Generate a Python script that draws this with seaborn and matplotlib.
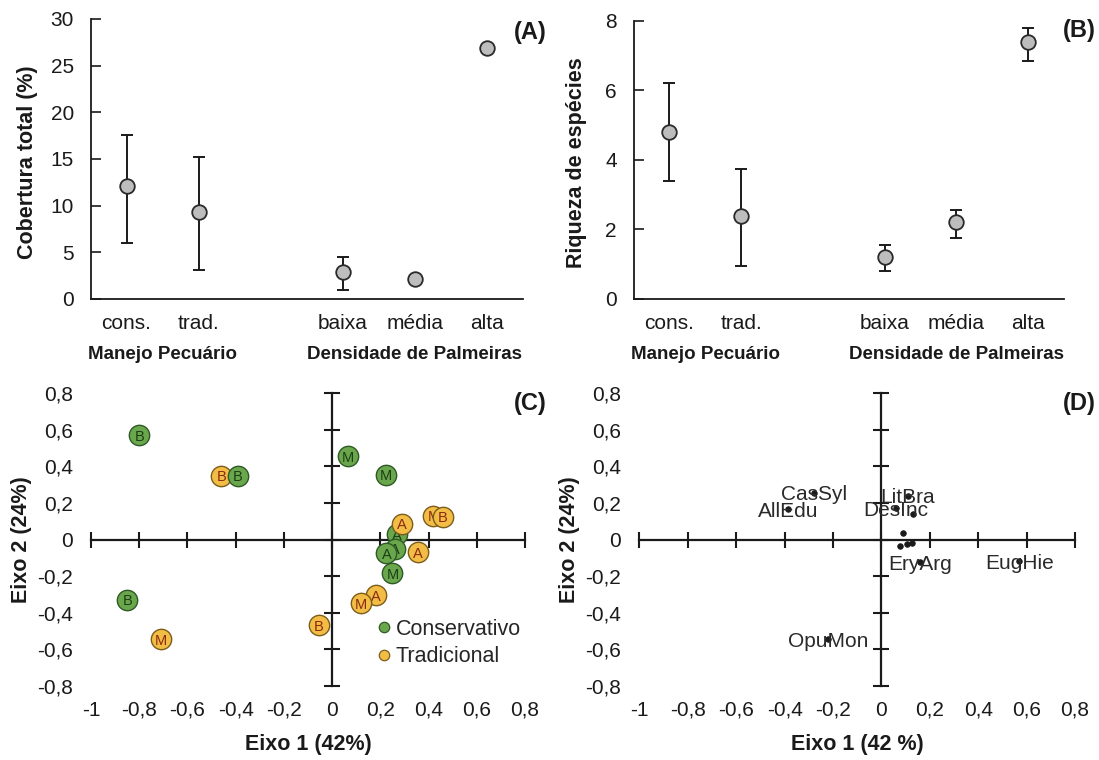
import numpy as np
import pandas as pd
import matplotlib
matplotlib.use('Agg')
import matplotlib.pyplot as plt
from matplotlib import transforms
from matplotlib.lines import Line2D
import seaborn as sns

# --- dados painéis A e B (médias e limites das barras de erro)
categorias = ['cons.', 'trad.', '', 'baixa', 'média', 'alta']
grupos = ['Manejo Pecuário', 'Densidade de Palmeiras']
grupo_idx = [[0, 1], [3, 4, 5]]

cob_media = [12.1, 9.3, np.nan, 2.9, 2.1, 26.9]
cob_inf = [6.0, 3.1, np.nan, 1.0, 2.1, 26.9]
cob_sup = [17.6, 15.2, np.nan, 4.5, 2.1, 26.9]

riq_media = [4.8, 2.4, np.nan, 1.2, 2.2, 7.4]
riq_inf = [3.4, 0.95, np.nan, 0.8, 1.75, 6.85]
riq_sup = [6.2, 3.75, np.nan, 1.55, 2.55, 7.8]

# --- dados painel C (escores das parcelas)
pc_x = [-0.46, -0.39, -0.80, -0.85, 0.065, 0.225, 0.27, 0.26, 0.25, 0.225,
        0.29, 0.42, 0.46, 0.355, 0.18, 0.12, -0.055, -0.71]
pc_y = [0.35, 0.35, 0.57, -0.33, 0.455, 0.355, 0.03, -0.05, -0.185, -0.075,
        0.085, 0.13, 0.125, -0.07, -0.305, -0.35, -0.47, -0.545]
pc_manejo = ['Tradicional', 'Conservativo', 'Conservativo', 'Conservativo',
             'Conservativo', 'Conservativo', 'Conservativo', 'Conservativo',
             'Conservativo', 'Conservativo', 'Tradicional', 'Tradicional',
             'Tradicional', 'Tradicional', 'Tradicional', 'Tradicional',
             'Tradicional', 'Tradicional']
pc_dens = ['B', 'B', 'B', 'B', 'M', 'M', 'A', 'A', 'M', 'A',
           'A', 'M', 'B', 'A', 'A', 'M', 'B', 'M']

# --- dados painel D (escores das espécies)
sp_nome = ['AllEdu', 'CasSyl', 'LitBra', 'DesInc', 'EryArg', 'EugHie', 'OpuMon',
           '', '', '', '', '']
sp_x = [-0.385, -0.28, 0.11, 0.06, 0.16, 0.57, -0.22, 0.13, 0.09, 0.076, 0.104, 0.125]
sp_y = [0.165, 0.255, 0.24, 0.17, -0.125, -0.12, -0.545, 0.14, 0.035, -0.038, -0.024, -0.02]

eixo_x_ticks = [-1, -0.8, -0.6, -0.4, -0.2, 0, 0.2, 0.4, 0.6, 0.8]
eixo_y_ticks = [-0.8, -0.6, -0.4, -0.2, 0, 0.2, 0.4, 0.6, 0.8]

cores = {'Conservativo': '#69a64c', 'Tradicional': '#f1bd45'}
bordas = {'Conservativo': '#2f5a26', 'Tradicional': '#7d5d1c'}
letras = {'Conservativo': '#1c3f16', 'Tradicional': '#8c2a10'}

sns.set_style('white')
plt.rcParams['font.family'] = ['Liberation Sans', 'DejaVu Sans']

fig = plt.figure(figsize=(10.99, 7.6), dpi=100)
W, H = 1099, 760


def px_axes(x0, y0, x1, y1):
    return fig.add_axes([x0 / W, 1 - y1 / H, (x1 - x0) / W, (y1 - y0) / H])


def painel_grupos(ax, media, inf, sup, ymax, ystep, ylabel, ylab_x):
    pos = np.arange(len(categorias))
    d = pd.DataFrame({'pos': pos, 'media': media, 'inf': inf, 'sup': sup}).dropna()
    ax.errorbar(d['pos'], d['media'], yerr=[d['media'] - d['inf'], d['sup'] - d['media']],
                fmt='none', ecolor='#1a1a1a', elinewidth=1.4, capsize=4.5, capthick=1.4, zorder=3)
    sns.scatterplot(data=d, x='pos', y='media', ax=ax, s=110, color='#bdbdbd',
                    edgecolor='#2a2a2a', linewidth=1.3, zorder=4, legend=False)
    ax.set_xlim(-0.5, len(categorias) - 0.5)
    ax.set_ylim(0, ymax)
    ax.set_yticks(np.arange(0, ymax + ystep / 2, ystep))
    ax.set_xticks(np.arange(-0.5, len(categorias), 1))
    ax.set_xticklabels([])
    ax.set_xticks(pos, minor=True)
    ax.set_xticklabels(categorias, minor=True)
    ax.tick_params(axis='x', which='major', direction='in', length=7, width=1.2, color='#1a1a1a')
    ax.tick_params(axis='x', which='minor', length=0, pad=11, labelsize=15, colors='#1a1a1a')
    ax.tick_params(axis='y', direction='in', length=7, width=1.2, pad=12, labelsize=15,
                   left=True, colors='#1a1a1a')
    for s in ['top', 'right']:
        ax.spines[s].set_visible(False)
    for s in ['left', 'bottom']:
        ax.spines[s].set_color('#1a1a1a')
        ax.spines[s].set_linewidth(1.3)
    ax.set_xlabel('')
    ax.set_ylabel(ylabel, fontsize=15.5, fontweight='bold', color='#1a1a1a')
    ax.yaxis.set_label_coords(ylab_x, 0.49)
    tr = transforms.blended_transform_factory(ax.transData, ax.transAxes)
    for nome, idx in zip(grupos, grupo_idx):
        ax.text(np.mean(idx), -0.2, nome, transform=tr, ha='center', va='center',
                fontsize=13.5, fontweight='bold', color='#1a1a1a')


def painel_eixos(ax, xlabel, ylab_x):
    ax.set_xlim(-1, 0.8)
    ax.set_ylim(-0.8, 0.8)
    for s in ['top', 'right']:
        ax.spines[s].set_visible(False)
    for s in ['left', 'bottom']:
        ax.spines[s].set_position(('data', 0))
        ax.spines[s].set_linewidth(1.6)
        ax.spines[s].set_color('#1a1a1a')
    ax.set_xticks(eixo_x_ticks)
    ax.set_yticks(eixo_y_ticks)
    ax.tick_params(direction='inout', length=11, width=1.5, color='#1a1a1a',
                   labelbottom=False, labelleft=False, left=True, bottom=True)
    sx = ax.secondary_xaxis('bottom')
    sx.set_xticks(eixo_x_ticks, [f'{v:g}'.replace('.', ',') for v in eixo_x_ticks])
    sx.spines['bottom'].set_visible(False)
    sx.tick_params(length=0, pad=11, labelsize=15, colors='#1a1a1a')
    sy = ax.secondary_yaxis('left')
    sy.set_yticks(eixo_y_ticks, [f'{v:g}'.replace('.', ',') for v in eixo_y_ticks])
    sy.spines['left'].set_visible(False)
    sy.tick_params(length=0, pad=13, labelsize=15, colors='#1a1a1a')
    ax.set_xlabel(xlabel, fontsize=15.5, fontweight='bold', color='#1a1a1a')
    ax.xaxis.set_label_coords(0.5, -0.165)
    ax.set_ylabel('Eixo 2 (24%)', fontsize=15.5, fontweight='bold', color='#1a1a1a')
    ax.yaxis.set_label_coords(ylab_x, 0.5)


# painel A
axA = px_axes(90.5, 19, 522.6, 299)
painel_grupos(axA, cob_media, cob_inf, cob_sup, 30, 5, 'Cobertura total (%)', -0.122)

# painel B
axB = px_axes(633.5, 20.7, 1063.8, 299)
painel_grupos(axB, riq_media, riq_inf, riq_sup, 8, 2, 'Riqueza de espécies', -0.108)

# painel C
axC = px_axes(91, 393.3, 525, 685.7)
df_c = pd.DataFrame({'x': pc_x, 'y': pc_y, 'manejo': pc_manejo, 'dens': pc_dens})
for i, r in df_c.iterrows():
    sns.scatterplot(x=[r['x']], y=[r['y']], ax=axC, s=215, color=cores[r['manejo']],
                    edgecolor=bordas[r['manejo']], linewidth=1.0, zorder=5 + 2 * i, legend=False)
    axC.text(r['x'], r['y'], r['dens'], ha='center', va='center_baseline', fontsize=10.5,
             color=letras[r['manejo']], zorder=6 + 2 * i)
painel_eixos(axC, 'Eixo 1 (42%)', -0.136)
handles = [Line2D([], [], marker='o', ls='', markersize=7.5, markerfacecolor=cores[k],
                  markeredgecolor=bordas[k], markeredgewidth=0.9, label=k)
           for k in ['Conservativo', 'Tradicional']]
axC.legend(handles=handles, loc='upper left', bbox_to_anchor=(0.65, 0.228), frameon=False,
           fontsize=15.5, handletextpad=0.05, handlelength=1.0, labelspacing=0.3,
           borderpad=0, borderaxespad=0)

# painel D
axD = px_axes(639.4, 393.3, 1075, 685.7)
df_d = pd.DataFrame({'nome': sp_nome, 'x': sp_x, 'y': sp_y})
sns.scatterplot(data=df_d, x='x', y='y', ax=axD, s=16, color='#1a1a1a', edgecolor='#1a1a1a',
                linewidth=0.6, zorder=5, legend=False)
for _, r in df_d.iterrows():
    if r['nome']:
        axD.text(r['x'], r['y'], r['nome'], ha='center', va='center_baseline', fontsize=15,
                 color='#2a2a2a', zorder=6)
painel_eixos(axD, 'Eixo 1 (42 %)', -0.137)

# letras dos painéis
for txt, x, y in [('(A)', 547, 32), ('(B)', 1096, 31), ('(C)', 547, 403), ('(D)', 1096, 403)]:
    fig.text(x / W, 1 - y / H, txt, ha='right', va='center', fontsize=17, fontweight='bold',
             color='#1a1a1a')

fig.savefig('out.png', dpi=100, facecolor='white')
